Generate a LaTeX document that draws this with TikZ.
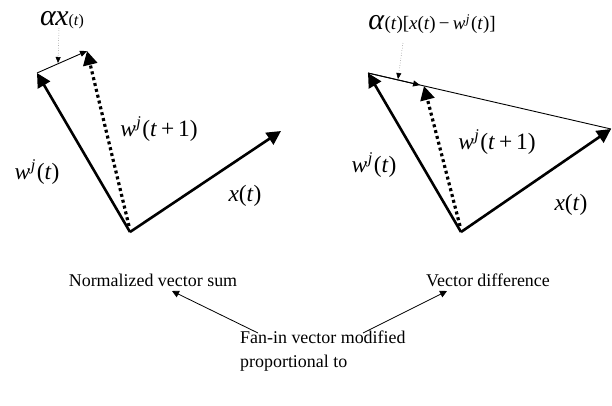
\documentclass[tikz,border=0pt]{standalone}
\usepackage{fontspec}
\setmainfont{Liberation Serif}
\usetikzlibrary{arrows.meta,calc}
\tikzset{
  vec/.style={line width=2.6bp,-{Triangle[length=14bp,width=14bp]}},
  newvec/.style={line width=3.2bp,dash pattern=on 3bp off 3bp,-{Triangle[length=14bp,width=14bp]}},
  thinvec/.style={line width=0.9bp,-{Triangle[length=7bp,width=6bp]}},
  thinline/.style={line width=0.9bp},
  pointer/.style={line width=0.5bp,gray!70!black,dotted,-{Triangle[length=6bp,width=5bp,black]}},
  callout/.style={line width=0.8bp,-{Triangle[length=7bp,width=7bp]}},
  lbl/.style={inner sep=0pt,font=\fontsize{23.5}{25}\selectfont},
  txt/.style={inner sep=0pt,font=\fontsize{18}{24}\selectfont}
}
\newcommand{\wj}{\textit{w}\textsuperscript{\kern0.5pt\textit{j}}\kern1pt}
\begin{document}
\begin{tikzpicture}[x=1bp,y=-1bp]
\useasboundingbox (0,0) rectangle (612,405);
% left diagram
\coordinate (O1) at (130,232);
\coordinate (W1) at (37,73);
\coordinate (N1) at (87,51);
\coordinate (X1) at (281,131);
\coordinate (P1s) at (59,28);
\coordinate (P1e) at (58,63);
\draw[vec] (O1) -- (W1);
\draw[vec] (O1) -- (X1);
\draw[newvec] ([shift={(-1,-6)}]O1) -- (N1);
\draw[thinvec] (W1) -- (N1);
\draw[pointer] (P1s) -- (P1e);
\node[inner sep=0pt] (a1) at (62,20) {{\fontsize{30}{30}\selectfont\textit{α}\kern-1pt\textit{x}}{\fontsize{16}{16}\selectfont(\textit{t})}};
\node[lbl] (lw1) at (37,172) {\wj(\textit{t})};
\node[lbl] (ln1) at (159,129) {\wj(\textit{t}\,+\,1)};
\node[lbl] (lx1) at (245,196) {\textit{x}(\textit{t})};
% right diagram
\coordinate (O2) at (461,232);
\coordinate (W2) at (368,73);
\coordinate (N2) at (424,86);
\coordinate (X2) at (611,129);
\coordinate (P2s) at (403,43);
\coordinate (P2e) at (398,79);
\draw[thinline] (W2) -- (X2);
\draw[vec] (O2) -- (W2);
\draw[vec] (O2) -- (X2);
\draw[newvec] ([shift={(-1,-6)}]O2) -- (N2);
\draw[thinvec] (W2) -- ($(W2)!0.93!(N2)$);
\draw[pointer] (P2s) -- (P2e);
\node[inner sep=0pt] (a2) at (432,24) {{\fontsize{30}{30}\selectfont\textit{α}}{\fontsize{19}{19}\selectfont(\textit{t})[\textit{x}(\textit{t})\,−\,\wj(\textit{t})]}};
\node[lbl] (lw2) at (374,165) {\wj(\textit{t})};
\node[lbl] (ln2) at (497,142) {\wj(\textit{t}\,+\,1)};
\node[lbl] (lx2) at (571,205) {\textit{x}(\textit{t})};
% bottom captions
\node[txt] (sum) at (153,280) {Normalized vector sum};
\node[txt] (diff) at (488,280) {Vector difference};
\node[txt,align=left,anchor=north west] (fan) at (240,331) {Fan-in vector modified\\proportional to};
\coordinate (C1s) at (258,333);
\coordinate (C1e) at (172,291);
\coordinate (C2s) at (363,333);
\coordinate (C2e) at (447,291);
\draw[callout] (C1s) -- (C1e);
\draw[callout] (C2s) -- (C2e);
\end{tikzpicture}
\end{document}
